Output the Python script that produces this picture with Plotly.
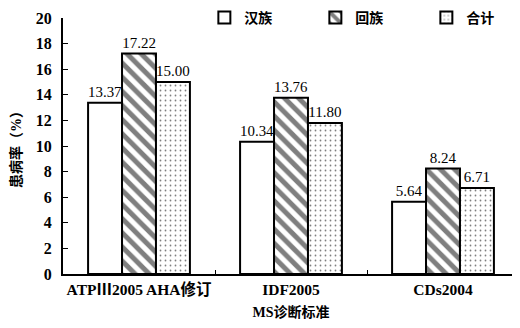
import plotly.graph_objects as go

categories = ["ATPⅢ2005 AHA修订", "IDF2005", "CDs2004"]
series_names = ["汉族", "回族", "合计"]
han = [13.37, 10.34, 5.64]
hui = [17.22, 13.76, 8.24]
total = [15.00, 11.80, 6.71]
y_ticks = [0, 2, 4, 6, 8, 10, 12, 14, 16, 18, 20]

serif = "Liberation Serif, Times New Roman, serif"
cjk = "Liberation Serif, Noto Sans CJK SC, serif"

patterns = [
    dict(shape=""),
    dict(shape="\\", fgcolor="black", bgcolor="white", size=10, solidity=0.5),
    dict(shape=".", fgcolor="black", bgcolor="white", size=5, solidity=0.1),
]

fig = go.Figure()
for name, vals, pat in zip(series_names, [han, hui, total], patterns):
    fig.add_trace(go.Bar(
        x=categories, y=vals, name=name,
        marker=dict(color="white", line=dict(color="black", width=2), pattern=pat),
        text=[f"{v:.2f}" for v in vals], textposition="outside",
        textfont=dict(family=serif, size=15, color="black"),
        cliponaxis=False,
    ))

# page body has an 8px default margin, so margins are offset to compensate
fig.update_layout(
    width=520, height=328,
    margin=dict(l=55, r=9, t=10, b=62, autoexpand=False),
    paper_bgcolor="white", plot_bgcolor="white",
    barmode="group", bargap=0.33, bargroupgap=0,
    showlegend=True,
    legend=dict(orientation="h", x=0.31, y=1.0, xanchor="left", yanchor="middle",
                font=dict(family=cjk, size=14, color="black", weight="bold"),
                entrywidth=66, entrywidthmode="pixels",
                bgcolor="rgba(0,0,0,0)", itemclick=False),
    font=dict(family=serif, color="black"),
)
fig.update_xaxes(
    automargin=False, tickangle=0,
    showline=True, linecolor="black", linewidth=2,
    ticks="inside", tickson="boundaries", ticklen=4, tickcolor="black",
    tickfont=dict(family=cjk, size=15.5, color="black", weight="bold"),
    title=dict(text="MS诊断标准", font=dict(family=cjk, size=14, color="black", weight="bold"), standoff=11),
    range=[-0.5, 2.5],
)
fig.update_yaxes(
    automargin=False,
    range=[0, 20], tickvals=y_ticks, showgrid=False, zeroline=False,
    showline=True, linecolor="black", linewidth=2,
    ticks="inside", ticklen=5, tickcolor="black", ticklabelstandoff=6,
    tickfont=dict(family=serif, size=16, color="black", weight="bold"),
    title=dict(text="患病率（%）", font=dict(family=cjk, size=14, color="black", weight="bold"), standoff=20),
)
fig.write_html("out.html")
